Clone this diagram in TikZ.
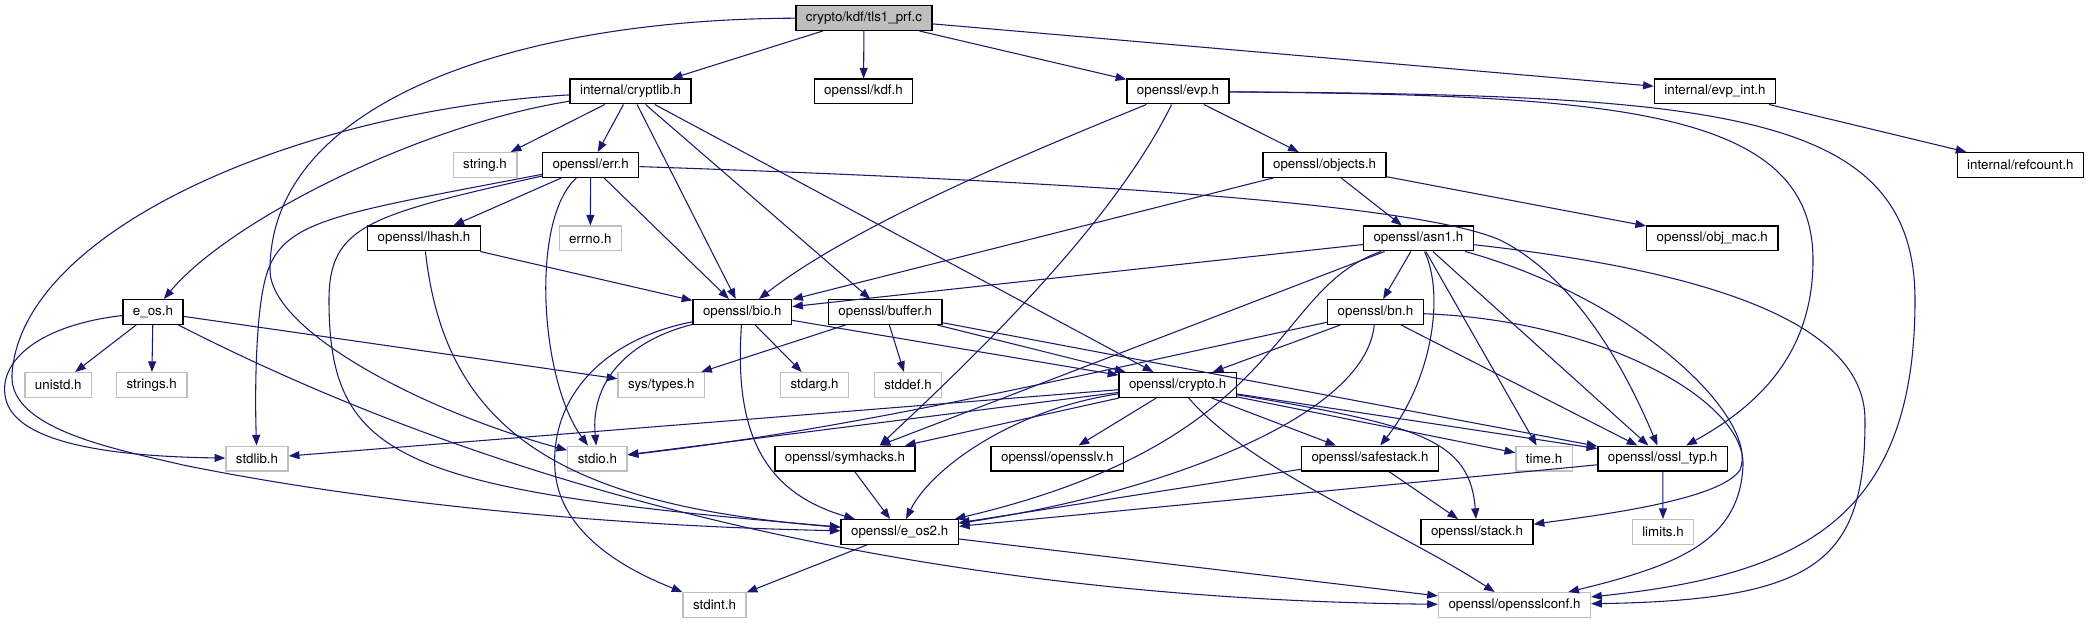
\documentclass[tikz,border=0pt]{standalone}
\usepackage{fontspec}
\setmainfont{TeX Gyre Heros}
\usepackage{xcolor}
\usepackage{tikz}
\usetikzlibrary{arrows.meta}
\definecolor{edgeblue}{HTML}{191970}
\definecolor{sysgray}{HTML}{BFBFBF}

\begin{document}
\begin{tikzpicture}[
    x=0.75pt, y=-0.75pt,
    header/.style={rectangle, draw, line width=1pt, fill=white, minimum height=18.5pt, inner xsep=7.5pt, inner ysep=0pt, font=\fontsize{10}{12}\selectfont},
    sysheader/.style={header, draw=sysgray},
    srcfile/.style={header, fill=sysgray},
    dep/.style={-{Triangle[length=8pt,width=6pt]}, edgeblue, line width=0.8pt}]
    \useasboundingbox (0,0) rectangle (2087,623);
    \node[srcfile] (tlsprf) at (864,18) {crypto/kdf/tls1\_prf.c};
    \node[header] (cryptlib) at (630.5,91.5) {internal/cryptlib.h};
    \node[header] (kdf) at (863.5,91.5) {openssl/kdf.h};
    \node[header] (evp) at (1178,91.5) {openssl/evp.h};
    \node[header] (evpint) at (1715,91.5) {internal/evp\_int.h};
    \node[sysheader] (stringh) at (485,165) {string.h};
    \node[header] (err) at (590.7,165) {openssl/err.h};
    \node[header] (objects) at (1324.6,165) {openssl/objects.h};
    \node[header] (refcount) at (2020.4,165) {internal/refcount.h};
    \node[header] (lhash) at (424,238.5) {openssl/lhash.h};
    \node[sysheader] (errno) at (590.3,238.5) {errno.h};
    \node[header] (asn1) at (1418.4,238.5) {openssl/asn1.h};
    \node[header] (objmac) at (1712.3,238.5) {openssl/obj\_mac.h};
    \node[header] (eos) at (153,312) {e\_os.h};
    \node[header] (bio) at (742.3,312) {openssl/bio.h};
    \node[header] (buffer) at (885.3,312) {openssl/buffer.h};
    \node[header] (bn) at (1375.5,312) {openssl/bn.h};
    \node[sysheader] (unistd) at (58.3,385) {unistd.h};
    \node[sysheader] (strings) at (151.7,385) {strings.h};
    \node[sysheader] (systypes) at (661.3,385) {sys/types.h};
    \node[sysheader] (stdarg) at (814.6,385) {stdarg.h};
    \node[sysheader] (stddef) at (908,385) {stddef.h};
    \node[header] (crypto) at (1177.6,385) {openssl/crypto.h};
    \node[sysheader] (stdlib) at (257,458.5) {stdlib.h};
    \node[sysheader] (stdio) at (597.4,458.5) {stdio.h};
    \node[header] (symhacks) at (845,458.5) {openssl/symhacks.h};
    \node[header] (opensslv) at (1057.3,458.5) {openssl/opensslv.h};
    \node[header] (safestack) at (1370,458.5) {openssl/safestack.h};
    \node[sysheader] (timeh) at (1544,458.5) {time.h};
    \node[header] (ossltyp) at (1662.8,458.5) {openssl/ossl\_typ.h};
    \node[header] (eos2) at (899.7,532) {openssl/e\_os2.h};
    \node[header] (stack) at (1477,532) {openssl/stack.h};
    \node[sysheader] (limits) at (1663,532) {limits.h};
    \node[sysheader] (stdint) at (714.5,605) {stdint.h};
    \node[sysheader] (conf) at (1514.5,605) {openssl/opensslconf.h};
    \draw[dep] (tlsprf) -- (cryptlib);
    \draw[dep] (tlsprf) -- (kdf);
    \draw[dep] (tlsprf) -- (evp);
    \draw[dep] (tlsprf) -- (evpint);
    \draw[dep] (tlsprf) .. controls (520,19) and (270,100) .. (270,270) .. controls (270,330) and (420,410) .. (stdio);
    \draw[dep] (cryptlib) -- (stringh);
    \draw[dep] (cryptlib) -- (err);
    \draw[dep] (cryptlib) -- (bio);
    \draw[dep] (cryptlib) -- (buffer);
    \draw[dep] (cryptlib) -- (crypto);
    \draw[dep] (cryptlib) .. controls (420,125) and (230,220) .. (eos);
    \draw[dep] (cryptlib) .. controls (300,110) and (20,230) .. (12,375) .. controls (9,430) and (120,450) .. (183,465) .. controls (330,495) and (560,525) .. (eos2);
    \draw[dep] (err) -- (lhash);
    \draw[dep] (err) -- (errno);
    \draw[dep] (err) -- (bio);
    \draw[dep] (err) .. controls (530,220) and (540,380) .. (stdio);
    \draw[dep] (err) .. controls (330,215) and (280,220) .. (265,280) .. controls (255,320) and (255,400) .. (stdlib);
    \draw[dep] (err) .. controls (370,215) and (329,225) .. (329,300) .. controls (329,460) and (400,490) .. (eos2);
    \draw[dep] (err) .. controls (1100,182) and (1420,205) .. (1500,240) .. controls (1580,280) and (1630,380) .. (ossltyp);
    \draw[dep] (lhash) -- (bio);
    \draw[dep] (lhash) .. controls (445,430) and (560,505) .. (eos2);
    \draw[dep] (eos) -- (unistd);
    \draw[dep] (eos) -- (strings);
    \draw[dep] (eos) -- (systypes);
    \draw[dep] (eos) .. controls (40,325) and (0,360) .. (5,395) .. controls (10,435) and (80,456) .. (stdlib);
    \draw[dep] (eos) .. controls (560,520) and (1000,600) .. (conf);
    \draw[dep] (bio) .. controls (630,340) and (590,380) .. (stdio);
    \draw[dep] (bio) .. controls (600,340) and (550,400) .. (555,470) .. controls (560,540) and (640,575) .. (stdint);
    \draw[dep] (bio) .. controls (735,420) and (755,490) .. (eos2);
    \draw[dep] (bio) -- (stdarg);
    \draw[dep] (bio) -- (crypto);
    \draw[dep] (buffer) -- (systypes);
    \draw[dep] (buffer) -- (stddef);
    \draw[dep] (buffer) -- (crypto);
    \draw[dep] (buffer) -- (ossltyp);
    \draw[dep] (evp) .. controls (1060,140) and (860,220) .. (bio);
    \draw[dep] (evp) .. controls (1110,230) and (960,370) .. ([xshift=26pt]symhacks.north);
    \draw[dep] (evp) -- (objects);
    \draw[dep] (evp) .. controls (1620,95) and (1813,110) .. (1813,260) .. controls (1813,360) and (1750,410) .. (ossltyp);
    \draw[dep] (evp) .. controls (1720,95) and (1915,110) .. (1915,300) .. controls (1915,520) and (1800,575) .. (conf);
    \draw[dep] (evpint) -- (refcount);
    \draw[dep] (objects) -- (objmac);
    \draw[dep] (objects) -- (asn1);
    \draw[dep] (objects) -- (bio);
    \draw[dep] (asn1) -- (bio);
    \draw[dep] (asn1) -- ([xshift=26pt]symhacks.north);
    \draw[dep] (asn1) .. controls (1270,290) and (1290,440) .. (eos2);
    \draw[dep] (asn1) -- (bn);
    \draw[dep] (asn1) .. controls (1445,295) and (1432,380) .. (safestack);
    \draw[dep] (asn1) -- (timeh);
    \draw[dep] (asn1) -- (ossltyp);
    \draw[dep] (asn1) .. controls (1640,300) and (1760,420) .. (1740,470) .. controls (1720,500) and (1600,515) .. (stack);
    \draw[dep] (asn1) .. controls (1700,270) and (1865,320) .. (1865,420) .. controls (1865,560) and (1820,600) .. (conf);
    \draw[dep] (bn) .. controls (1080,375) and (860,428) .. (stdio);
    \draw[dep] (bn) -- (crypto);
    \draw[dep] (bn) .. controls (1365,420) and (1150,495) .. (eos2);
    \draw[dep] (bn) -- (ossltyp);
    \draw[dep] (bn) .. controls (1600,320) and (1745,400) .. (1743,465) .. controls (1740,540) and (1680,565) .. (conf);
    \draw[dep] (crypto) -- (stdlib);
    \draw[dep] (crypto) -- (stdio);
    \draw[dep] (crypto) -- ([xshift=45pt]symhacks.north);
    \draw[dep] (crypto) -- (opensslv);
    \draw[dep] (crypto) .. controls (1010,410) and (930,470) .. (eos2);
    \draw[dep] (crypto) -- (safestack);
    \draw[dep] (crypto) -- (timeh);
    \draw[dep] (crypto) -- (ossltyp);
    \draw[dep] (crypto) .. controls (1420,425) and (1470,440) .. (stack);
    \draw[dep] (crypto) .. controls (1250,470) and (1400,530) .. (conf);
    \draw[dep] (symhacks) -- (eos2);
    \draw[dep] (safestack) -- (stack);
    \draw[dep] (safestack) -- (eos2);
    \draw[dep] (ossltyp) -- (eos2);
    \draw[dep] (ossltyp) -- (limits);
    \draw[dep] (eos2) -- (conf);
    \draw[dep] (eos2) -- (stdint);
\end{tikzpicture}
\end{document}
